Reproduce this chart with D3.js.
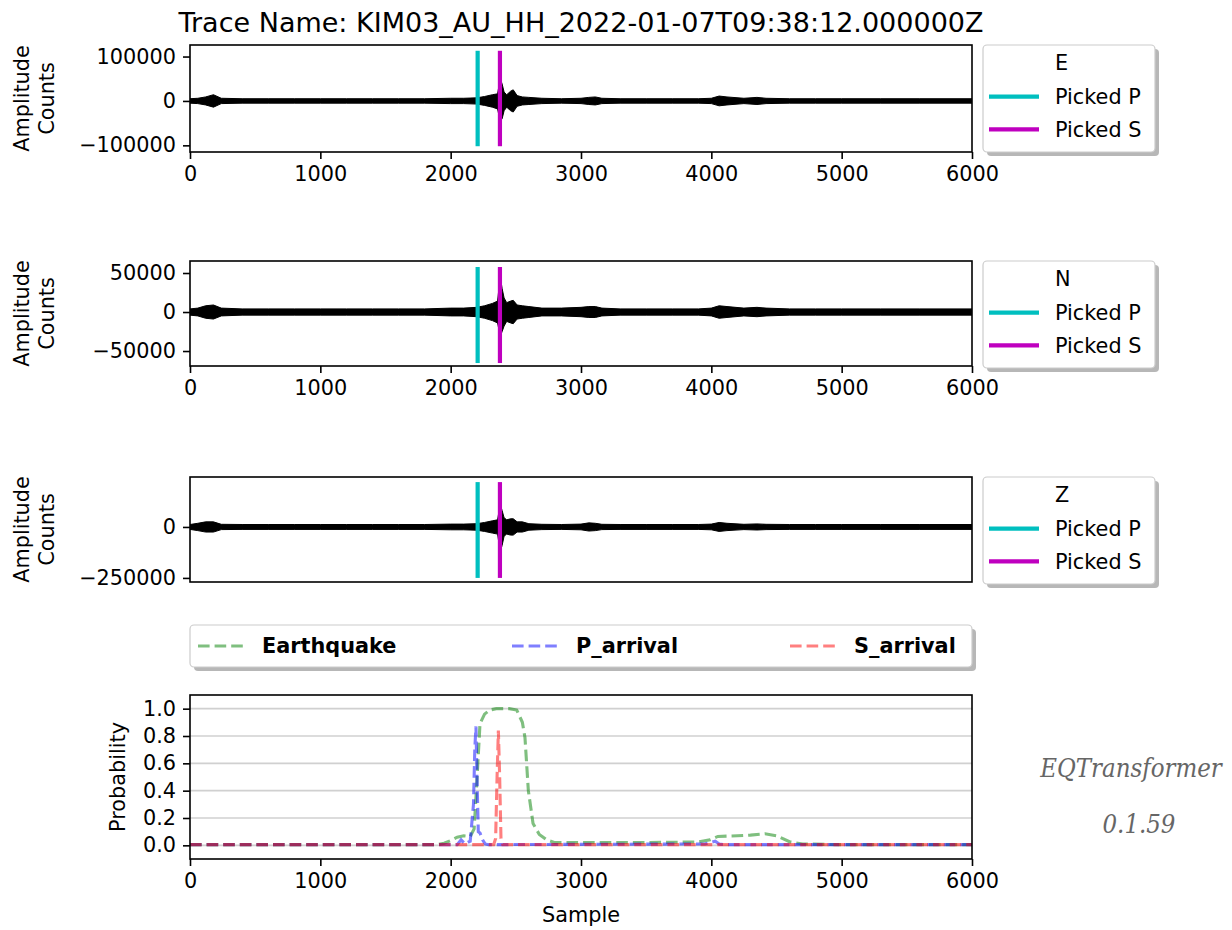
<!DOCTYPE html>
<html>
<head>
<meta charset="utf-8">
<script src="https://cdn.jsdelivr.net/npm/d3@7"></script>
<style>
  body { margin: 0; background: #fff; }
  svg { display: block; font-family: "DejaVu Sans", sans-serif; }
</style>
</head>
<body>
<div id="chart"></div>
<script>
// ---- data ----
const traceName = "Trace Name: KIM03_AU_HH_2022-01-07T09:38:12.000000Z";
const channels = ["E", "N", "Z"];
const sampleTicks = [0, 1000, 2000, 3000, 4000, 5000, 6000];

// picked arrivals (sample index)
const pickedP = 2207;
const pickedS = 2378;

// waveform envelope (thousands of counts), sampled at envSamples
const envSamples = [0, 60, 120, 180, 240, 400, 600, 800, 1000, 1200, 1400, 1600, 1800, 2000, 2100, 2200, 2260, 2320, 2360, 2380, 2395, 2410, 2430, 2460, 2480, 2510, 2550, 2600, 2700, 2850, 3000, 3060, 3110, 3160, 3300, 3500, 3700, 3900, 4000, 4060, 4120, 4250, 4350, 4420, 4600, 4800, 5000, 5300, 5600, 6000];
const eTop = [5, 6, 9, 14, 6, 5, 5, 5, 5, 5, 5, 5, 5, 6, 6, 7, 10, 14, 16, 51, 38, 20, 14, 22, 25, 12, 9, 8, 6, 5, 6, 8, 9, 6, 5, 5, 5, 5, 6, 11, 9, 6, 8, 6, 5, 5, 5, 5, 5, 5];
const eBot = [5, 6, 9, 14, 6, 5, 5, 5, 5, 5, 5, 5, 5, 6, 6, 7, 10, 14, 18, 46, 40, 22, 14, 22, 25, 12, 9, 8, 6, 5, 6, 8, 9, 6, 5, 5, 5, 5, 6, 11, 9, 6, 8, 6, 5, 5, 5, 5, 5, 5];
const nTop = [4, 5, 8, 9, 5, 4, 4, 4, 4, 4, 4, 4, 4, 5, 5, 6, 8, 11, 14, 46, 30, 18, 12, 14, 15, 9, 8, 7, 5, 5, 6, 7, 7, 5, 4, 4, 4, 4, 5, 8, 7, 5, 6, 5, 4, 4, 4, 4, 4, 4];
const nBot = [4, 5, 8, 9, 5, 4, 4, 4, 4, 4, 4, 4, 4, 5, 5, 6, 8, 11, 14, 31, 25, 18, 12, 14, 15, 9, 8, 7, 5, 5, 6, 7, 7, 5, 4, 4, 4, 4, 5, 8, 7, 5, 6, 5, 4, 4, 4, 4, 4, 4];
const zTop = [12, 18, 25, 25, 13, 12, 12, 12, 12, 12, 12, 12, 12, 14, 14, 16, 22, 30, 35, 113, 80, 45, 35, 40, 40, 25, 25, 16, 13, 12, 14, 20, 18, 13, 12, 12, 12, 12, 14, 22, 18, 13, 15, 13, 12, 12, 12, 12, 12, 12];
const zBot = [12, 18, 25, 25, 13, 12, 12, 12, 12, 12, 12, 12, 12, 14, 14, 16, 22, 30, 35, 122, 90, 45, 35, 40, 40, 25, 25, 16, 13, 12, 14, 20, 18, 13, 12, 12, 12, 12, 14, 22, 18, 13, 15, 13, 12, 12, 12, 12, 12, 12];

// y axis limits, ticks and pick-line extents per channel (counts)
const yLimits = [[-115000, 126000], [-69200, 65400], [-270000, 245000]];
const yTickValues = [[-100000, 0, 100000], [-50000, 0, 50000], [-250000, 0]];
const pickSpan = [[-102000, 113000], [-65400, 57700], [-250000, 220000]];

// probabilities
const eqSamples = [0, 1900, 1950, 2000, 2050, 2100, 2150, 2180, 2200, 2225, 2260, 2300, 2350, 2450, 2507, 2550, 2570, 2596, 2632, 2680, 2737, 2800, 3000, 3500, 3900, 3990, 4050, 4200, 4300, 4412, 4500, 4604, 4700, 5000, 6000];
const eqProb = [0.005, 0.005, 0.015, 0.035, 0.06, 0.07, 0.065, 0.12, 0.45, 0.89, 0.96, 0.99, 1.0, 1.0, 0.99, 0.9, 0.79, 0.4, 0.16, 0.08, 0.04, 0.02, 0.02, 0.02, 0.025, 0.04, 0.065, 0.07, 0.075, 0.085, 0.07, 0.025, 0.01, 0.005, 0.005];
const pSamples = [0, 2050, 2080, 2110, 2150, 2175, 2185, 2194, 2202, 2212, 2225, 2245, 2265, 2290, 3950, 4030, 4060, 4100, 6000];
const pProb = [0.005, 0.005, 0.04, 0.01, 0.03, 0.3, 0.7, 0.87, 0.5, 0.1, 0.09, 0.04, 0.01, 0.005, 0.01, 0.03, 0.01, 0.005, 0.005];
const sSamples = [0, 2330, 2345, 2356, 2366, 2376, 2386, 2400, 6000];
const sProb = [0.005, 0.005, 0.05, 0.5, 0.84, 0.5, 0.05, 0.005, 0.005];
const probTicks = [0, 0.2, 0.4, 0.6, 0.8, 1.0];
const probNames = ["Earthquake", "P_arrival", "S_arrival"];

// ---- layout ----
const W = 1232, H = 930;
const left = 190, right = 972;
const panelBoxes = [[45, 152], [261, 366], [477, 582]];
const probBox = [695, 859];
const fs = 20.8;

const svg = d3.select("#chart").append("svg")
    .attr("width", W).attr("height", H);
svg.append("rect").attr("width", W).attr("height", H).attr("fill", "#fff");

const x = d3.scaleLinear().domain([0, 6000]).range([left, right]);

function styleAxis(g) {
    g.select(".domain").remove();
    g.selectAll(".tick line").attr("stroke", "#000").attr("stroke-width", 1.6);
    g.selectAll(".tick text").attr("fill", "#000")
        .style("font-size", fs + "px").style("font-family", "DejaVu Sans");
}

function legendFrame(g, x0, y0, w, h) {
    g.append("rect").attr("x", x0 + 4).attr("y", y0 + 4).attr("width", w).attr("height", h)
        .attr("rx", 4).attr("fill", "#999").attr("opacity", 0.7);
    g.append("rect").attr("x", x0).attr("y", y0).attr("width", w).attr("height", h)
        .attr("rx", 4).attr("fill", "#fff").attr("stroke", "#ccc").attr("stroke-width", 1.2);
}

// title
svg.append("text")
    .attr("x", (left + right) / 2).attr("y", 32)
    .attr("text-anchor", "middle")
    .style("font-size", "27px")
    .text(traceName);

const envTable = [[eTop, eBot], [nTop, nBot], [zTop, zBot]];

channels.forEach((ch, i) => {
    const [top, bot] = panelBoxes[i];
    const y = d3.scaleLinear().domain(yLimits[i]).range([bot, top]);
    const g = svg.append("g");

    const clipId = "clip" + i;
    svg.append("clipPath").attr("id", clipId)
        .append("rect").attr("x", left).attr("y", top).attr("width", right - left).attr("height", bot - top);

    // waveform envelope
    const env = envSamples.map((s, k) => ({s, hi: envTable[i][0][k] * 1000, lo: -envTable[i][1][k] * 1000}));
    const area = d3.area()
        .x(d => x(d.s))
        .y0(d => y(d.lo))
        .y1(d => y(d.hi));
    g.append("path")
        .datum(env)
        .attr("clip-path", `url(#${clipId})`)
        .attr("d", area)
        .attr("fill", "#000").attr("stroke", "#000").attr("stroke-width", 1);

    // picks
    [[pickedP, "#00bfbf"], [pickedS, "#bf00bf"]].forEach(([p, c]) => {
        g.append("line")
            .attr("x1", x(p)).attr("x2", x(p))
            .attr("y1", y(pickSpan[i][0])).attr("y2", y(pickSpan[i][1]))
            .attr("stroke", c).attr("stroke-width", 4.2);
    });

    // frame
    g.append("rect").attr("x", left).attr("y", top).attr("width", right - left).attr("height", bot - top)
        .attr("fill", "none").attr("stroke", "#000").attr("stroke-width", 1.6);

    // axes
    g.append("g").attr("transform", `translate(${left},0)`)
        .call(d3.axisLeft(y).tickValues(yTickValues[i]).tickSize(7).tickPadding(7).tickFormat(d3.format("d")))
        .call(styleAxis);
    if (i < 2) {
        g.append("g").attr("transform", `translate(0,${bot})`)
            .call(d3.axisBottom(x).tickValues(sampleTicks).tickSize(7).tickPadding(7).tickFormat(d3.format("d")))
            .call(styleAxis);
    }

    // y label
    const cy = (top + bot) / 2;
    const lab = g.append("text").attr("transform", `translate(22,${cy}) rotate(-90)`)
        .attr("text-anchor", "middle").style("font-size", fs + "px");
    lab.append("tspan").attr("x", 0).attr("dy", "0.35em").text("Amplitude");
    lab.append("tspan").attr("x", 0).attr("dy", 25).text("Counts");

    // legend
    const lg = svg.append("g");
    legendFrame(lg, 983, top, 172, 107);
    lg.append("text").attr("x", 1055).attr("y", top + 18).attr("dy", "0.35em")
        .style("font-size", fs + "px").text(ch);
    [["Picked P", "#00bfbf", 51.7], ["Picked S", "#bf00bf", 84.3]].forEach(([t, c, dy]) => {
        lg.append("line").attr("x1", 989).attr("x2", 1039)
            .attr("y1", top + dy).attr("y2", top + dy)
            .attr("stroke", c).attr("stroke-width", 4.2);
        lg.append("text").attr("x", 1055).attr("y", top + dy).attr("dy", "0.35em")
            .style("font-size", fs + "px").text(t);
    });
});

// ---- probability panel ----
const yp = d3.scaleLinear().domain([-0.1, 1.1]).range([probBox[1], probBox[0]]);
const pg = svg.append("g");

pg.selectAll("line.grid").data(probTicks).enter().append("line")
    .attr("class", "grid")
    .attr("x1", left).attr("x2", right)
    .attr("y1", d => yp(d)).attr("y2", d => yp(d))
    .attr("stroke", "#b0b0b0").attr("stroke-opacity", 0.6).attr("stroke-width", 1.6);

const probSeries = [
    {xs: eqSamples, ys: eqProb, color: "green"},
    {xs: pSamples, ys: pProb, color: "blue"},
    {xs: sSamples, ys: sProb, color: "red"}
];
const line = d3.line().x(d => x(d[0])).y(d => yp(d[1]));
probSeries.forEach(s => {
    pg.append("path")
        .datum(s.xs.map((v, k) => [v, s.ys[k]]))
        .attr("d", line)
        .attr("fill", "none")
        .attr("stroke", s.color).attr("stroke-opacity", 0.5)
        .attr("stroke-width", 3.1)
        .attr("stroke-dasharray", "11.6,5");
});

pg.append("rect").attr("x", left).attr("y", probBox[0]).attr("width", right - left).attr("height", probBox[1] - probBox[0])
    .attr("fill", "none").attr("stroke", "#000").attr("stroke-width", 1.6);

pg.append("g").attr("transform", `translate(${left},0)`)
    .call(d3.axisLeft(yp).tickValues(probTicks).tickSize(7).tickPadding(7).tickFormat(d3.format(".1f")))
    .call(styleAxis);
pg.append("g").attr("transform", `translate(0,${probBox[1]})`)
    .call(d3.axisBottom(x).tickValues(sampleTicks).tickSize(7).tickPadding(7).tickFormat(d3.format("d")))
    .call(styleAxis);

pg.append("text").attr("transform", `translate(118,${(probBox[0] + probBox[1]) / 2}) rotate(-90)`)
    .attr("text-anchor", "middle").attr("dy", "0.35em").style("font-size", fs + "px").text("Probability");
pg.append("text").attr("x", (left + right) / 2).attr("y", 915).attr("dy", "0.35em")
    .attr("text-anchor", "middle").style("font-size", fs + "px").text("Sample");

// probability legend
const plg = svg.append("g");
legendFrame(plg, left, 625, right - left, 42);
const legX = [198, 512, 790];
probSeries.forEach((s, k) => {
    plg.append("line").attr("x1", legX[k]).attr("x2", legX[k] + 46)
        .attr("y1", 646).attr("y2", 646)
        .attr("stroke", s.color).attr("stroke-opacity", 0.5)
        .attr("stroke-width", 3.1).attr("stroke-dasharray", "11.6,5");
    plg.append("text").attr("x", legX[k] + 64).attr("y", 646).attr("dy", "0.35em")
        .style("font-size", fs + "px").style("font-weight", "bold").text(probNames[k]);
});

// footer
const foot = svg.append("g").attr("fill", "#666")
    .style("font-family", "DejaVu Serif, serif").style("font-style", "italic")
    .style("font-stretch", "condensed").style("font-size", "25.5px");
foot.append("text").attr("x", 1131).attr("y", 768).attr("dy", "0.35em").attr("text-anchor", "middle").text("EQTransformer");
foot.append("text").attr("x", 1139).attr("y", 824).attr("dy", "0.35em").attr("text-anchor", "middle").text("0.1.59");
</script>
</body>
</html>
